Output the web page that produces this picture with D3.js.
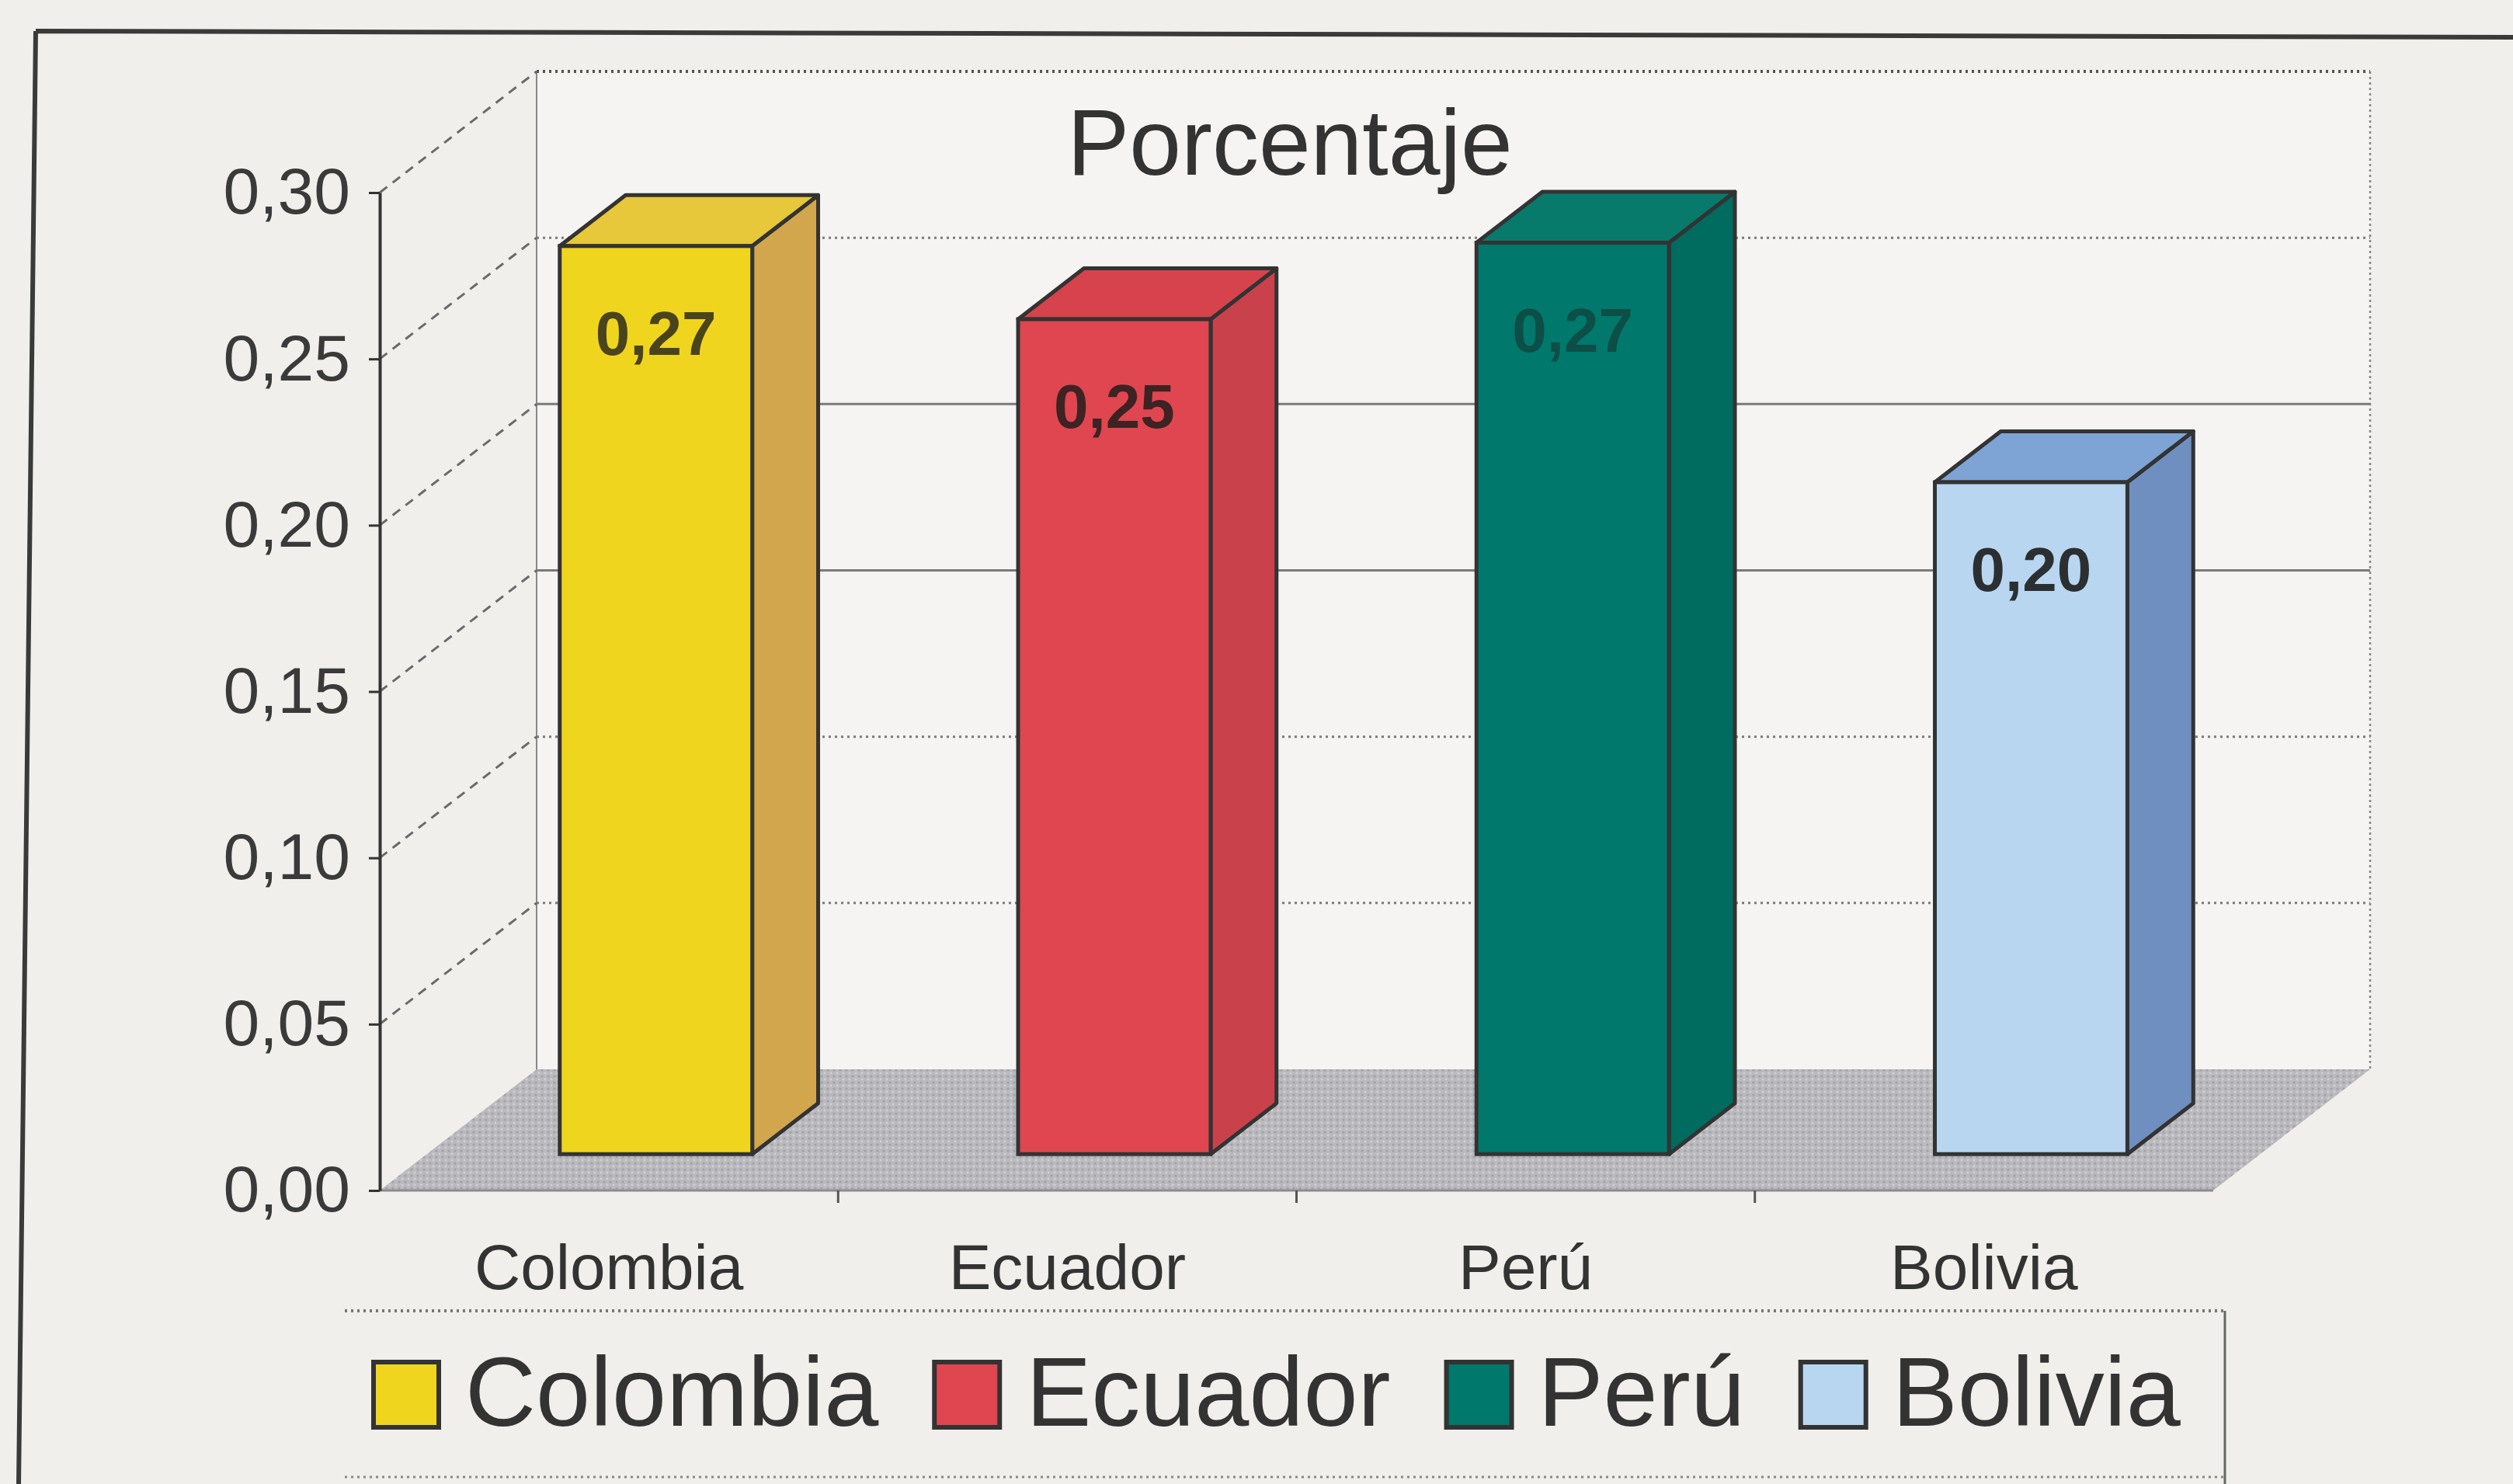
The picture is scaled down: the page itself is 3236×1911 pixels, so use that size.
<!DOCTYPE html>
<html>
<head>
<meta charset="utf-8">
<script src="https://cdn.jsdelivr.net/npm/d3@7"></script>
<style>
  body { margin: 0; background: #f1efec; }
  svg { display: block; font-family: "Liberation Sans", Arial, sans-serif; }
</style>
</head>
<body>
<script>
// data
const categories = ["Colombia", "Ecuador", "Perú", "Bolivia"];
const values = [0.273, 0.251, 0.274, 0.202];
const yTicks = [0, 0.05, 0.10, 0.15, 0.20, 0.25, 0.30];
const title = "Porcentaje";

// palette: front, side and top faces of each bar
const frontColors = ["#f0d51e", "#e0464f", "#00786b", "#b8d6f0"];
const sideColors = ["#d2a64c", "#c9424b", "#006b5f", "#6f8fc0"];
const topColors = ["#e6c83a", "#d7434c", "#087a6c", "#7ea4d6"];

const W = 3236, H = 1911;
const DX = 202, DY = -156;      // depth of the 3D floor
const front = 0.3, depth = 0.42; // bar placement inside the depth

const svg = d3.select("body").append("svg")
  .attr("width", W).attr("height", H);

const defs = svg.append("defs");
const pat = defs.append("pattern").attr("id", "floorTex")
  .attr("width", 8).attr("height", 8).attr("patternUnits", "userSpaceOnUse");
pat.append("rect").attr("width", 8).attr("height", 8).attr("fill", "#bababe");
pat.append("circle").attr("cx", 2).attr("cy", 2).attr("r", 1.6).attr("fill", "#a0a0a6");
pat.append("circle").attr("cx", 6).attr("cy", 6).attr("r", 1.4).attr("fill", "#d2d2d5");

svg.append("rect").attr("width", W).attr("height", H).attr("fill", "#f1efec");

// outer frame
svg.append("path")
  .attr("d", "M46,40 L3236,48 M46,40 L24,1911")
  .attr("fill", "none").attr("stroke", "#3a3a3a").attr("stroke-width", 6);

const y = d3.scaleLinear().domain([0, 0.30]).range([1533, 248]);
const x = d3.scaleBand().domain(categories).range([489, 2850])
  .paddingInner(0.58).paddingOuter(0.29);
const x0 = x.range()[0], x1 = x.range()[1];

// back wall
svg.append("rect")
  .attr("x", x0 + DX).attr("y", y(0.30) + DY)
  .attr("width", x1 - x0).attr("height", y(0) - y(0.30))
  .attr("fill", "#f5f4f2");
svg.append("line")
  .attr("x1", x0 + DX).attr("x2", x0 + DX)
  .attr("y1", y(0.30) + DY).attr("y2", y(0) + DY)
  .attr("stroke", "#888").attr("stroke-width", 2);
svg.append("line")
  .attr("x1", x1 + DX).attr("x2", x1 + DX)
  .attr("y1", y(0.30) + DY).attr("y2", y(0) + DY)
  .attr("stroke", "#888").attr("stroke-width", 2.5).attr("stroke-dasharray", "3,4");

// grid lines on the back wall and the side wall
function gridDash(v) {
  if (Math.abs(v - 0.20) < 1e-6 || Math.abs(v - 0.15) < 1e-6) return null;
  return "3,5";
}
svg.append("g").selectAll("line").data(yTicks.filter(d => d > 0)).join("line")
  .attr("x1", x0 + DX).attr("x2", x1 + DX)
  .attr("y1", d => y(d) + DY).attr("y2", d => y(d) + DY)
  .attr("stroke", d => d === 0.30 ? "#555" : "#7a7a7a")
  .attr("stroke-width", d => d === 0.30 ? 4 : 3)
  .attr("stroke-dasharray", gridDash);

svg.append("g").selectAll("line").data(yTicks.filter(d => d > 0)).join("line")
  .attr("x1", x0).attr("x2", x0 + DX)
  .attr("y1", d => y(d)).attr("y2", d => y(d) + DY)
  .attr("stroke", "#6a6a6a").attr("stroke-width", 3)
  .attr("stroke-dasharray", "12,9");

// floor
svg.append("path")
  .attr("d", `M${x0},${y(0)} L${x1},${y(0)} L${x1 + DX},${y(0) + DY} L${x0 + DX},${y(0) + DY} Z`)
  .attr("fill", "url(#floorTex)");
svg.append("line")
  .attr("x1", x0).attr("x2", x1).attr("y1", y(0)).attr("y2", y(0))
  .attr("stroke", "#8c8c90").attr("stroke-width", 3);

// category ticks between bands
svg.append("g").selectAll("line").data(categories.slice(1)).join("line")
  .attr("x1", d => x(d) - x.step() * x.paddingInner() / 2)
  .attr("x2", d => x(d) - x.step() * x.paddingInner() / 2)
  .attr("y1", y(0)).attr("y2", y(0) + 16)
  .attr("stroke", "#555").attr("stroke-width", 3);

// bars
const bars = categories.map((c, i) => ({ cat: c, value: values[i], i: i }));
const fx = d => x(d.cat) + front * DX;
const fTop = d => y(d.value) + front * DY;
const fBot = () => y(0) + front * DY;
const ddx = depth * DX, ddy = depth * DY;
const bw = x.bandwidth();

const g = svg.append("g").selectAll("g").data(bars).join("g");

g.append("path")
  .attr("d", d => `M${fx(d) + bw},${fTop(d)} L${fx(d) + bw + ddx},${fTop(d) + ddy} L${fx(d) + bw + ddx},${fBot() + ddy} L${fx(d) + bw},${fBot()} Z`)
  .attr("fill", d => sideColors[d.i])
  .attr("stroke", "#333").attr("stroke-width", 5).attr("stroke-linejoin", "round");

g.append("path")
  .attr("d", d => `M${fx(d)},${fTop(d)} L${fx(d) + ddx},${fTop(d) + ddy} L${fx(d) + bw + ddx},${fTop(d) + ddy} L${fx(d) + bw},${fTop(d)} Z`)
  .attr("fill", d => topColors[d.i])
  .attr("stroke", "#333").attr("stroke-width", 5).attr("stroke-linejoin", "round");

g.append("rect")
  .attr("x", fx).attr("y", fTop)
  .attr("width", bw).attr("height", d => fBot() - fTop(d))
  .attr("fill", d => frontColors[d.i])
  .attr("stroke", "#333").attr("stroke-width", 5);

// value labels: dark ink, so they almost vanish on the dark bar
g.append("text")
  .attr("x", d => fx(d) + bw / 2)
  .attr("y", d => fTop(d) + 140)
  .attr("text-anchor", "middle")
  .attr("font-size", 80).attr("font-weight", "bold")
  .attr("fill", d => {
    const t = Math.min(0.9, 0.2 + 1.1 * d3.hsl(frontColors[d.i]).l);
    return d3.interpolateRgb(frontColors[d.i], "#1c1c1c")(t);
  })
  .text(d => d3.format(".2f")(d.value).replace(".", ","));

// y axis
const yAxis = svg.append("g")
  .attr("transform", `translate(${x0},0)`)
  .call(d3.axisLeft(y).tickValues(yTicks)
    .tickFormat(d => d3.format(".2f")(d).replace(".", ","))
    .tickSize(14).tickSizeOuter(0).tickPadding(24));
yAxis.select(".domain").attr("stroke", "#333").attr("stroke-width", 4);
yAxis.selectAll(".tick line").attr("stroke", "#333").attr("stroke-width", 3);
yAxis.selectAll(".tick text")
  .attr("font-size", 84).attr("font-family", "Liberation Sans, Arial, sans-serif")
  .attr("fill", "#3a3a3a");

// x labels
const xAxis = svg.append("g")
  .attr("transform", `translate(0,${y(0)})`)
  .call(d3.axisBottom(x).tickSize(0).tickPadding(69));
xAxis.select(".domain").remove();
xAxis.selectAll(".tick text")
  .attr("font-size", 82).attr("font-family", "Liberation Sans, Arial, sans-serif")
  .attr("fill", "#333");

// title
svg.append("text")
  .attr("x", 1661).attr("y", 225)
  .attr("text-anchor", "middle")
  .attr("font-size", 120).attr("fill", "#333")
  .text(title);

// legend
const legTop = 1688;
svg.append("line")
  .attr("x1", 444).attr("x2", 2865).attr("y1", legTop).attr("y2", legTop)
  .attr("stroke", "#777").attr("stroke-width", 4).attr("stroke-dasharray", "3,5");
svg.append("line")
  .attr("x1", 444).attr("x2", 2865).attr("y1", 1902).attr("y2", 1902)
  .attr("stroke", "#888").attr("stroke-width", 3).attr("stroke-dasharray", "3,5");
svg.append("line")
  .attr("x1", 2865).attr("x2", 2865).attr("y1", legTop).attr("y2", H)
  .attr("stroke", "#666").attr("stroke-width", 3);

let lx = 481;
categories.forEach((c, i) => {
  svg.append("rect")
    .attr("x", lx).attr("y", 1754).attr("width", 84).attr("height", 84)
    .attr("fill", frontColors[i]).attr("stroke", "#333").attr("stroke-width", 6);
  const t = svg.append("text")
    .attr("x", lx + 84 + 34).attr("y", 1836)
    .attr("font-size", 126).attr("fill", "#333")
    .text(c);
  lx = lx + 84 + 34 + t.node().getComputedTextLength() + 72;
});
</script>
</body>
</html>
